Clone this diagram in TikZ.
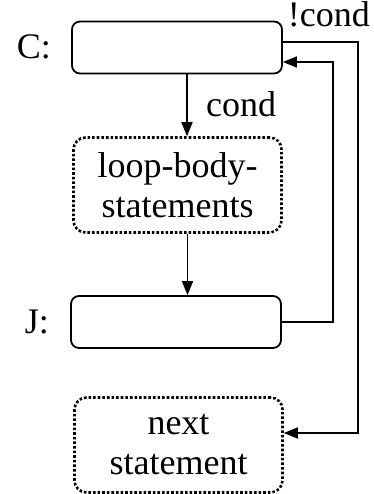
\documentclass[tikz,border=0pt]{standalone}
\usepackage{fontspec}
\setmainfont{Liberation Serif}
\usetikzlibrary{arrows.meta,positioning,calc}

\begin{document}
\begin{tikzpicture}[
            x=1pt, y=-1pt,
            font=\fontsize{36}{40}\selectfont,
            >={Triangle[length=14pt,width=11pt]},
            % --- node styles ---
            solidbox/.style={
                draw, rounded corners=8pt, line width=1.8pt,
                minimum width=210pt, minimum height=52pt,
                inner sep=0pt
            },
            dotbox/.style={
                draw, rounded corners=12pt, line width=2.6pt,
                dotted, minimum width=208pt, minimum height=95pt,
                align=center, inner sep=0pt
            },
            lbl/.style={inner sep=0pt},
            % --- edge style ---
            arr/.style={->, line width=1.7pt}
        ]

        % fixes the page to the reference size
        \useasboundingbox (0,0) rectangle (373,494);

        % --- boxes ---
        \node[solidbox] (cbox) at (177,47.5) {};
        \node[dotbox]   (body) at (177.5,185)
            {loop-body-\\statements};
        \node[solidbox] (jbox) at (176,322) {};
        \node[dotbox]   (next) at (178.5,445)
            {next\\statement};

        % --- labels ---
        \node[lbl, anchor=east] (clabel) at (51,47) {C:};
        \node[lbl, anchor=east] (jlabel) at (49,322) {J:};
        \node[lbl, anchor=base west] (condlabel) at (206,117) {cond};
        \node[lbl, anchor=base east] (notcond) at (370,27) {!cond};

        % ===== Arrows: straight path =====
        \draw[arr] ([xshift=10pt]cbox.south) -- ([xshift=10pt]cbox.south |- body.north);
        \draw[arr] ([xshift=10pt]body.south) -- ([xshift=10pt]body.south |- jbox.north);

        % ===== Arrows: back edge and exit =====
        \draw[arr] (jbox.east) -- ++(51,0) |- ([yshift=-14.5pt]cbox.east);
        \draw[arr] ([yshift=5.5pt]cbox.east) -- ++(75,0) |- ([yshift=12pt]next.east);

\end{tikzpicture}
\end{document}
